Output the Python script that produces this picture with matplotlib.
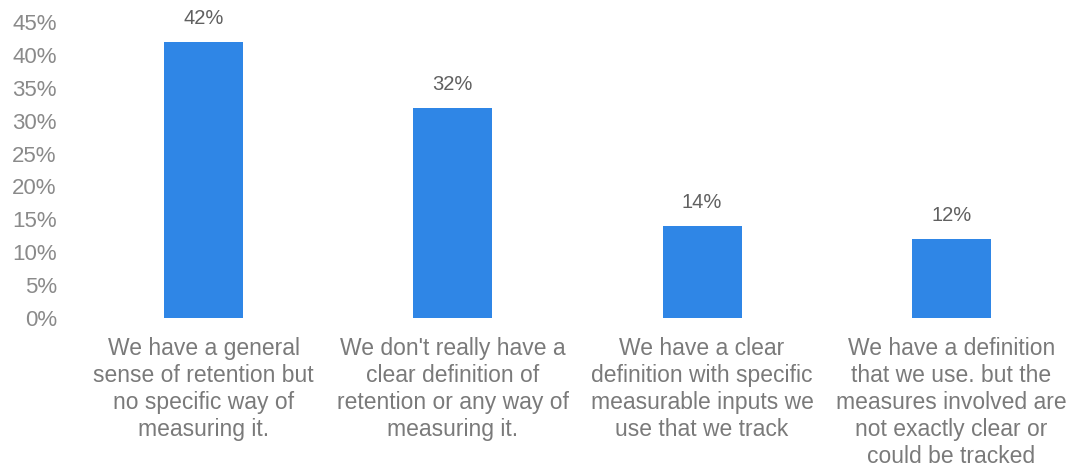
import matplotlib
matplotlib.use("Agg")
import matplotlib.pyplot as plt
from matplotlib.ticker import FuncFormatter, MultipleLocator

categories = [
    "We have a general\nsense of retention but\nno specific way of\nmeasuring it.",
    "We don't really have a\nclear definition of\nretention or any way of\nmeasuring it.",
    "We have a clear\ndefinition with specific\nmeasurable inputs we\nuse that we track",
    "We have a definition\nthat we use. but the\nmeasures involved are\nnot exactly clear or\ncould be tracked",
]
values = [42, 32, 14, 12]
value_labels = ["42%", "32%", "14%", "12%"]

plt.rcParams["font.family"] = ["Liberation Sans", "DejaVu Sans"]

fig = plt.figure(figsize=(10.76, 4.73), dpi=100)
ax = fig.add_axes([0.0734, 0.3277, 0.9266, 0.6258])

x = list(range(len(categories)))
bars = ax.bar(x, values, width=0.317, color="#2F86E6")

for rect, lab in zip(bars, value_labels):
    ax.annotate(lab, (rect.get_x() + rect.get_width() / 2, rect.get_height()),
                xytext=(0, 10), textcoords="offset points",
                ha="center", va="bottom", fontsize=14.5, color="#606060")

ax.set_xlim(-0.5, 3.5)
ax.set_ylim(0, 45)
ax.yaxis.set_major_locator(MultipleLocator(5))
ax.yaxis.set_major_formatter(FuncFormatter(lambda v, _: f"{v:.0f}%"))
ax.tick_params(axis="y", length=0, pad=16, labelsize=16, labelcolor="#8a8a8a")

ax.set_xticks(x)
ax.set_xticklabels(categories, fontsize=16.5, color="#7a7a7a", linespacing=1.22)
ax.tick_params(axis="x", length=0, pad=14)

for s in ax.spines.values():
    s.set_visible(False)

fig.savefig("out.png", dpi=100, facecolor="white")
